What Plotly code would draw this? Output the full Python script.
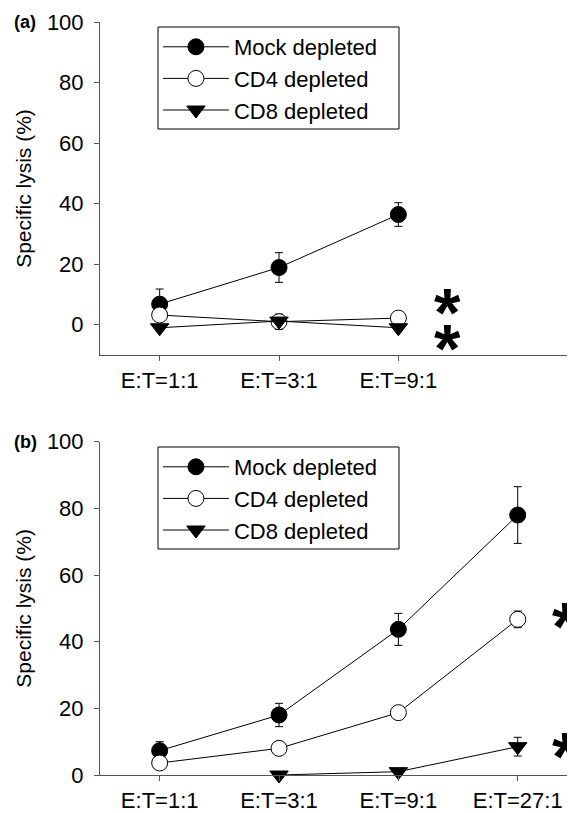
import plotly.graph_objects as go
from plotly.subplots import make_subplots

# ---- data ----
cats_a = ["E:T=1:1", "E:T=3:1", "E:T=9:1"]
cats_b = ["E:T=1:1", "E:T=3:1", "E:T=9:1", "E:T=27:1"]
series_names = ["Mock depleted", "CD4 depleted", "CD8 depleted"]

mock_a = [6.8, 18.9, 36.4]
mock_a_err = [5.0, 4.9, 3.9]
cd4_a = [3.2, 1.0, 2.2]
cd4_a_err = [1.0, 2.5, 1.0]
cd8_a = [-1.0, 1.2, -1.0]
cd8_a_err = [1.0, 1.0, 1.0]

mock_b = [7.3, 18.0, 43.7, 78.0]
mock_b_err = [2.7, 3.5, 4.8, 8.5]
cd4_b = [3.6, 8.0, 18.7, 46.7]
cd4_b_err = [1.0, 1.0, 1.0, 2.5]
cd8_b = [None, 0.0, 1.0, 8.5]
cd8_b_err = [0.0, 0.5, 0.5, 2.8]

star_a_x = [2.41, 2.41]
star_a_y = [6.8, -5.0]
star_b_x = [3.40, 3.40]
star_b_y = [47.1, 8.1]

panel_labels = ["(a)", "(b)"]
ytitle = "Specific lysis (%)"

FONT = "Arial, Liberation Sans, sans-serif"

fig = make_subplots(rows=2, cols=1, vertical_spacing=0.1)

styles = [
    dict(symbol="circle", color="black", line=dict(color="black", width=1)),
    dict(symbol="circle", color="white", line=dict(color="black", width=1)),
    dict(symbol="triangle-down", color="black", line=dict(color="black", width=1)),
]

def add_series(row, cats, ys, errs, legend):
    for name, y, e, st in zip(series_names, ys, errs, styles):
        fig.add_trace(go.Scatter(
            x=cats[:len(y)], y=y, name=name, mode="lines+markers",
            line=dict(color="black", width=1),
            marker=dict(size=16, **st),
            error_y=dict(type="data", array=e, color="black", thickness=1, width=4),
            cliponaxis=False, legend=legend, showlegend=True,
        ), row=row, col=1)

add_series(1, cats_b, [mock_a, cd4_a, cd8_a], [mock_a_err, cd4_a_err, cd8_a_err], "legend")
add_series(2, cats_b, [mock_b, cd4_b, cd8_b], [mock_b_err, cd4_b_err, cd8_b_err], "legend2")

axis_common = dict(showline=True, linecolor="#555", linewidth=1, ticks="outside",
                   ticklen=5, tickcolor="#555", showgrid=False, zeroline=False,
                   automargin=False,
                   tickfont=dict(family=FONT, size=22, color="black"))

fig.update_xaxes(type="category", categoryorder="array", categoryarray=cats_b,
                 range=[-0.5, 3.48], ticklabelstandoff=1, **axis_common)
fig.update_xaxes(tickvals=cats_a, row=1, col=1)
fig.update_yaxes(tickvals=[0, 20, 40, 60, 80, 100], ticklabelstandoff=6,
                 title=dict(text=ytitle, font=dict(family=FONT, size=21, color="black"), standoff=9),
                 **axis_common)
fig.update_yaxes(range=[-10, 100], row=1, col=1)
fig.update_yaxes(range=[0, 100], row=2, col=1)

# page has an 8px body margin: figure is 8px smaller, positions measured in page px
OFF = 8
W, H = 575 - OFF, 813 - OFF
t = 22 - OFF
b = H - (775 - OFF)
ph = H - t - b
def fy(px):
    return (775 - px) / ph
def fx(px):
    return (px - 100) / 475

fig.update_layout(
    yaxis=dict(domain=[fy(355), 1.0]),
    yaxis2=dict(domain=[0.0, fy(441.7)]),
)

legend_style = dict(x=0.122, xanchor="left", yanchor="top", bgcolor="rgba(0,0,0,0)",
                    borderwidth=0, itemwidth=66,
                    font=dict(family=FONT, size=22, color="black"),
                    tracegroupgap=0)
fig.update_layout(
    legend=dict(y=fy(26), **legend_style),
    legend2=dict(y=fy(446), **legend_style),
)

# legend frames
for top, bot in [(27, 129), (447, 549)]:
    fig.add_shape(type="rect", xref="paper", yref="paper",
                  x0=fx(158), x1=fx(399), y0=fy(bot), y1=fy(top),
                  line=dict(color="black", width=1), fillcolor="rgba(0,0,0,0)", layer="above")

ann = []
for xs, ys, xr, yr in [(star_a_x, star_a_y, "x", "y"), (star_b_x, star_b_y, "x2", "y2")]:
    for xx, yy in zip(xs, ys):
        ann.append(dict(x=xx, y=yy, xref=xr, yref=yr, text="<b>*</b>", showarrow=False,
                        font=dict(family=FONT, size=68, color="black"),
                        xanchor="center", yanchor="middle", yshift=-8))
for lab, ypx in zip(panel_labels, [22, 441.7]):
    ann.append(dict(x=-0.185, y=fy(ypx), xref="paper", yref="paper", text="<b>" + lab + "</b>",
                    showarrow=False, xanchor="left", yanchor="middle",
                    font=dict(family=FONT, size=18, color="black")))

fig.update_layout(
    annotations=ann,
    width=W, height=H,
    margin=dict(l=100 - OFF, r=0, t=t, b=b),
    plot_bgcolor="white", paper_bgcolor="white",
    font=dict(family=FONT, color="black"),
)

fig.write_html("out.html")
